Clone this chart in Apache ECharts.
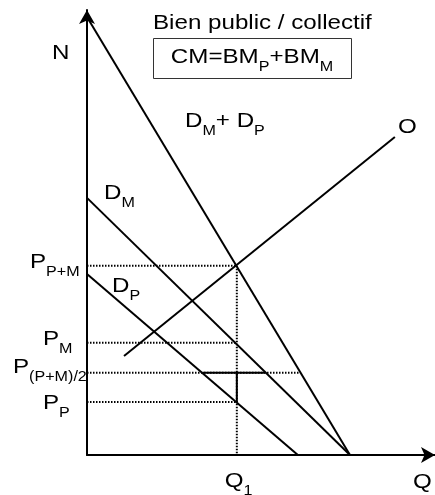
<!DOCTYPE html>
<html>
<head>
<meta charset="utf-8">
<script src="https://cdn.jsdelivr.net/npm/echarts@6/dist/echarts.min.js"></script>
<style>
  html, body { margin: 0; padding: 0; background: #fff; }
  #main { width: 435px; height: 495px; }
</style>
</head>
<body>
<div id="main"></div>
<script>
// courbes : [quantité, prix]
const demandeSomme = [[0, 100], [76.7, 0]];   // D_M + D_P
const demandeM = [[0, 58.7], [76.7, 0]];
const demandeP = [[0, 41.3], [61.5, 0]];
const offre = [[10.8, 22.6], [89.8, 72.6]];   // O

const q1 = 43.7;
const pSomme = 43.2, pM = 25.6, pMoy = 18.8, pP = 12.1;
const qMoyFin = 62.1;                         // fin du pointillé P(P+M)/2
const segMoy = [[33.8, pMoy], [51.9, pMoy]];  // segment plein entre D_P et D_M

// étiquettes des prix : [texte, indice]
const prixLabels = [['P', 'P+M'], ['P', 'M'], ['P', '(P+M)/2'], ['P', 'P']];
const prixValeurs = [pSomme, pM, pMoy, pP];
const prixGauche = [30, 43, 13, 43];
const prixDecal = [-3.5, -3.5, -5.5, 1.5];

const FONT = '"Liberation Sans", Arial, sans-serif';
const GRAND = 21, PETIT = 14, SX = 1.15, INDICE = 10;

function trait(data, pointille) {
  return {
    type: 'line',
    data: data,
    symbol: 'none',
    silent: true,
    lineStyle: {
      color: '#000',
      width: pointille ? 2 : 2,
      type: pointille ? [1.5, 1.5] : 'solid'
    }
  };
}

let myChart = echarts.init(document.getElementById('main'));

function axe(max) {
  return {
    type: 'value',
    min: 0,
    max: max,
    axisLine: {
      show: true,
      symbol: ['none', 'arrow'],
      symbolSize: [12, 14],
      lineStyle: { color: '#000', width: 2 }
    },
    axisTick: { show: false },
    axisLabel: { show: false },
    splitLine: { show: false }
  };
}

myChart.setOption({
  animation: false,
  grid: { left: 87, right: 0, top: 10, bottom: 40 },
  xAxis: axe(101.5),
  yAxis: axe(101.6),
  series: [
    trait(demandeSomme),
    trait(demandeM),
    trait(demandeP),
    trait(offre),
    trait(segMoy),
    trait([[q1, pMoy], [q1, pP]]),
    trait([[0, pSomme], [q1, pSomme]], true),
    trait([[q1, pSomme], [q1, 0]], true),
    trait([[0, pM], [q1, pM]], true),
    trait([[0, pMoy], [qMoyFin, pMoy]], true),
    trait([[0, pP], [q1, pP]], true)
  ]
});

// mesure de texte pour placer les indices
let ctx = document.createElement('canvas').getContext('2d');
function largeur(t, taille) {
  ctx.font = taille + 'px ' + FONT;
  return ctx.measureText(t).width * SX;
}

// morceaux : alternance texte normal / indice
function etiquette(x, y, morceaux, centre) {
  let tailles = morceaux.map(function(t, i) { return i % 2 ? PETIT : GRAND; });
  let total = 0;
  morceaux.forEach(function(t, i) { total += largeur(t, tailles[i]); });
  let cx = centre ? x - total / 2 : x;
  let els = [];
  morceaux.forEach(function(t, i) {
    if (!t) return;
    els.push({
      type: 'text',
      x: cx,
      y: y + (i % 2 ? INDICE : 0),
      scaleX: SX,
      silent: true,
      style: {
        text: t,
        fill: '#000',
        font: tailles[i] + 'px ' + FONT,
        align: 'left',
        textAlign: 'left',
        verticalAlign: 'middle',
        textVerticalAlign: 'middle'
      }
    });
    cx += largeur(t, tailles[i]);
  });
  return els;
}

let px = function(q, p) {
  return myChart.convertToPixel({ gridIndex: 0 }, [q, p]);
};

let graphics = [
  {
    type: 'rect',
    shape: { x: 153.5, y: 38.5, width: 198, height: 40 },
    style: { fill: '#fff', stroke: '#333', lineWidth: 1 },
    silent: true
  }
].concat(
  etiquette(153, 23, ['Bien public / collectif']),
  etiquette(252, 57, ['CM=BM', 'P', '+BM', 'M'], true),
  etiquette(52, 53, ['N']),
  etiquette(413, 482, ['Q']),
  etiquette(398, 127.5, ['O']),
  etiquette(185, 121.5, ['D', 'M', '+ D', 'P']),
  etiquette(104, 193.5, ['D', 'M']),
  etiquette(112, 286, ['D', 'P'])
);

prixLabels.forEach(function(l, i) {
  let pos = px(0, prixValeurs[i]);
  graphics = graphics.concat(etiquette(prixGauche[i], pos[1] + prixDecal[i], l));
});
let posQ1 = px(q1, 0);
graphics = graphics.concat(etiquette(posQ1[0] - 12, 481.5, ['Q', '1']));

myChart.setOption({ graphic: graphics });

window.addEventListener('resize', function() {
  myChart.resize();
});
</script>
</body>
</html>
